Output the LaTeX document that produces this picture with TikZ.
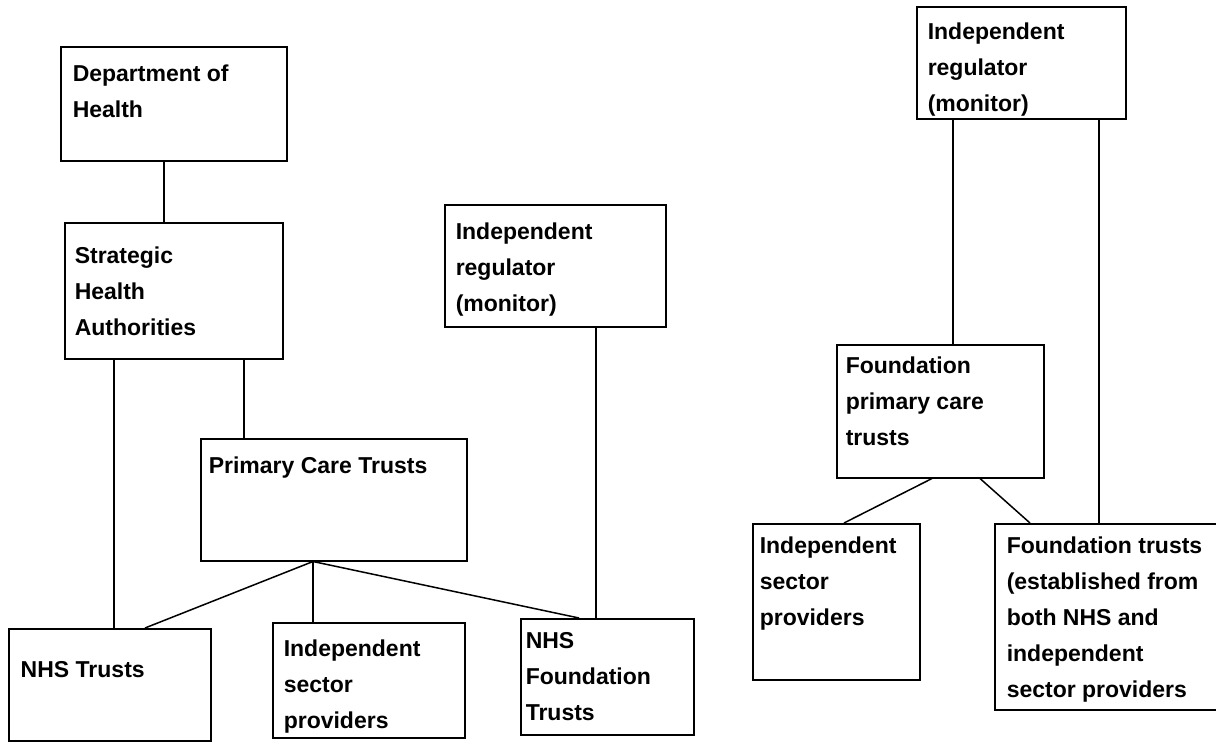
\documentclass[tikz,border=0pt]{standalone}
\usepackage{fontspec}
\setmainfont{Liberation Sans}
\usetikzlibrary{calc}
% box text: width, height, left gap, first baseline, lines
\newcommand{\boxtext}[5]{\parbox[c][#2pt][t]{#1pt}{\raggedright\leftskip=#3pt\relax
  \fontsize{23pt}{36pt}\selectfont\bfseries\rule{0pt}{#4pt}#5}}

\begin{document}
\begin{tikzpicture}[x=1pt, y=-1pt,
  panel/.style={draw, line width=1.5pt, anchor=north west, inner sep=0pt},
  link/.style={line width=1.5pt}]
\clip (0,0) rectangle (1216,742);

% left tree
\node[panel] (doh) at (60,46) {\boxtext{226}{114}{12}{35}{Department of\\Health}};
\node[panel] (sha) at (64,222) {\boxtext{218}{136}{10}{41}{Strategic\\Health\\Authorities}};
\node[panel] (pct) at (200,438) {\boxtext{266}{122}{8}{35}{Primary Care Trusts}};
\node[panel] (nhs) at (8,628) {\boxtext{202}{112}{12}{49}{NHS Trusts}};
\node[panel] (isp) at (272,622) {\boxtext{192}{115}{11}{34}{Independent\\sector\\providers}};
\node[panel] (nhsft) at (520,618) {\boxtext{173}{116}{5}{30}{NHS\\Foundation\\Trusts}};
\node[panel] (ir) at (444,204) {\boxtext{221}{122}{11}{35}{Independent\\regulator\\(monitor)}};

\draw[link] ([xshift=104pt]doh.south west) coordinate (dohfoot) -- (dohfoot |- sha.north);
\draw[link] ([xshift=50pt]sha.south west) coordinate (shafoota) -- (shafoota |- nhs.north);
\draw[link] ([xshift=180pt]sha.south west) coordinate (shafootb) -- (shafootb |- pct.north);
\draw[link] ([xshift=152pt]ir.south west) coordinate (irfoot) -- (irfoot |- nhsft.north);

\coordinate (pctfoot) at ([xshift=113pt]pct.south west);
\draw[link] (pctfoot) -- ([xshift=137pt]nhs.north west);
\draw[link] (pctfoot) -- ([xshift=41pt]isp.north west);
\draw[link] (pctfoot) -- ([xshift=59pt]nhsft.north west);

% right tree
\node[panel] (irb) at (916,6) {\boxtext{209}{112}{11}{33}{Independent\\regulator\\(monitor)}};
\node[panel] (fpct) at (836,344) {\boxtext{207}{133}{9}{29}{Foundation\\primary care\\trusts}};
\node[panel] (ispb) at (752,523) {\boxtext{167}{156}{7}{30}{Independent\\sector\\providers}};
\node[panel] (ft) at (994,523) {\boxtext{240}{186}{12}{30}{Foundation trusts\\(established from\\both NHS and\\independent\\sector providers}};

\draw[link] ([xshift=37pt]irb.south west) coordinate (irbfoota) -- (irbfoota |- fpct.north);
\draw[link] ([xshift=183pt]irb.south west) coordinate (irbfootb) -- (irbfootb |- ft.north);
\draw[link] ([xshift=96pt]fpct.south west) -- ([xshift=92pt]ispb.north west);
\draw[link] ([xshift=144pt]fpct.south west) -- ([xshift=36pt]ft.north west);
\end{tikzpicture}
\end{document}
